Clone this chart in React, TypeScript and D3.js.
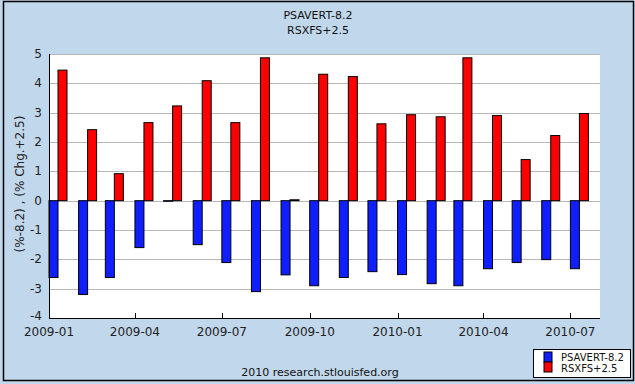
import React from "react";
import * as d3 from "d3";

const months = [
  "2009-01", "2009-02", "2009-03", "2009-04", "2009-05", "2009-06", "2009-07",
  "2009-08", "2009-09", "2009-10", "2009-11", "2009-12", "2010-01", "2010-02",
  "2010-03", "2010-04", "2010-05", "2010-06", "2010-07",
];
const psavert = [
  -2.62, -3.2, -2.62, -1.6, -0.02, -1.5, -2.11, -3.1, -2.53, -2.9, -2.62,
  -2.42, -2.52, -2.83, -2.9, -2.32, -2.11, -2.01, -2.32,
];
const rsxfs = [
  4.45, 2.42, 0.92, 2.66, 3.23, 4.09, 2.66, 4.87, 0.03, 4.31, 4.23, 2.62,
  2.93, 2.86, 4.87, 2.9, 1.4, 2.22, 2.97,
];
const yTicks = [-4, -3, -2, -1, 0, 1, 2, 3, 4, 5];
const xTickLabels = ["2009-01", "2009-04", "2009-07", "2009-10", "2010-01", "2010-04", "2010-07"];

const W = 635;
const H = 384;
const margin = { top: 54, right: 35, bottom: 66, left: 49 };
const BLUE = "#0f1fff";
const RED = "#ff0000";
const BG = "#c1d7ec";
const FONT = "DejaVu Sans, sans-serif";

const parse = d3.timeParse("%Y-%m");

export default function App() {
  const x = d3
    .scaleTime()
    .domain([parse("2009-01")!, parse("2010-08")!])
    .range([margin.left, W - margin.right]);
  const y = d3
    .scaleLinear()
    .domain([-4, 5])
    .range([H - margin.bottom, margin.top]);

  const barW = 9;
  const y0 = y(0);

  return (
    <svg
      width={W}
      height={H}
      style={{ position: "absolute", left: 0, top: 0, fontFamily: FONT }}
    >
      <rect x={0} y={0} width={W} height={H} fill={BG} />
      <rect x={3.5} y={1.5} width={630} height={379} fill="none" stroke="#000" strokeWidth={1.5} />

      <text x={318} y={19} textAnchor="middle" fontSize={11} fill="#111">PSAVERT-8.2</text>
      <text x={318} y={34} textAnchor="middle" fontSize={11} fill="#111">RSXFS+2.5</text>

      <rect
        x={margin.left}
        y={margin.top}
        width={W - margin.left - margin.right}
        height={H - margin.top - margin.bottom}
        fill="#fff"
      />

      {yTicks.map((t) => (
        <g key={t}>
          {t > -4 && (
            <line
              x1={margin.left}
              x2={W - margin.right}
              y1={Math.round(y(t)) + 0.5}
              y2={Math.round(y(t)) + 0.5}
              stroke="#b8b8b8"
            />
          )}
          <text
            x={margin.left - 7}
            y={y(t) + (t === -4 ? 2 : 4)}
            textAnchor="end"
            fontSize={12}
            fill="#222"
          >
            {t}
          </text>
        </g>
      ))}

      {months.map((m, i) => {
        const xm = x(parse(m)!);
        const pv = psavert[i];
        const rv = rsxfs[i];
        return (
          <g key={m}>
            <rect
              x={xm}
              y={Math.min(y(pv), y0)}
              width={barW}
              height={Math.abs(y(pv) - y0)}
              fill={BLUE}
              stroke="#000"
              strokeWidth={1}
            />
            <rect
              x={xm + barW}
              y={Math.min(y(rv), y0)}
              width={barW}
              height={Math.abs(y(rv) - y0)}
              fill={RED}
              stroke="#000"
              strokeWidth={1}
            />
          </g>
        );
      })}

      <line
        x1={margin.left + 0.5}
        x2={margin.left + 0.5}
        y1={margin.top}
        y2={H - margin.bottom}
        stroke="#000"
      />
      <line
        x1={margin.left}
        x2={W - margin.right}
        y1={H - margin.bottom + 0.5}
        y2={H - margin.bottom + 0.5}
        stroke="#000"
      />

      {xTickLabels.map((l) => {
        const xt = x(parse(l)!);
        return (
          <g key={l}>
            <line
              x1={Math.round(xt) + 0.5}
              x2={Math.round(xt) + 0.5}
              y1={H - margin.bottom}
              y2={H - margin.bottom - 5}
              stroke="#000"
            />
            <text x={xt} y={H - margin.bottom + 18} textAnchor="middle" fontSize={12} fill="#222">
              {l}
            </text>
          </g>
        );
      })}

      <text
        transform={`translate(24, ${(margin.top + H - margin.bottom) / 2 - 2}) rotate(-90)`}
        textAnchor="middle"
        fontSize={12}
        fill="#222"
      >
        (%-8.2) , (% Chg.+2.5)
      </text>

      <text x={320} y={376} textAnchor="middle" fontSize={11} fill="#111">
        2010 research.stlouisfed.org
      </text>

      <g>
        <rect x={533.5} y={349.5} width={97} height={28} fill="#fff" stroke="#000" />
        <rect x={544} y={352} width={8} height={10} fill={BLUE} stroke="#000" />
        <rect x={544} y={362} width={8} height={10} fill={RED} stroke="#000" />
        <text x={561} y={361} fontSize={10} fill="#111">PSAVERT-8.2</text>
        <text x={561} y={372} fontSize={10} fill="#111">RSXFS+2.5</text>
      </g>
    </svg>
  );
}
